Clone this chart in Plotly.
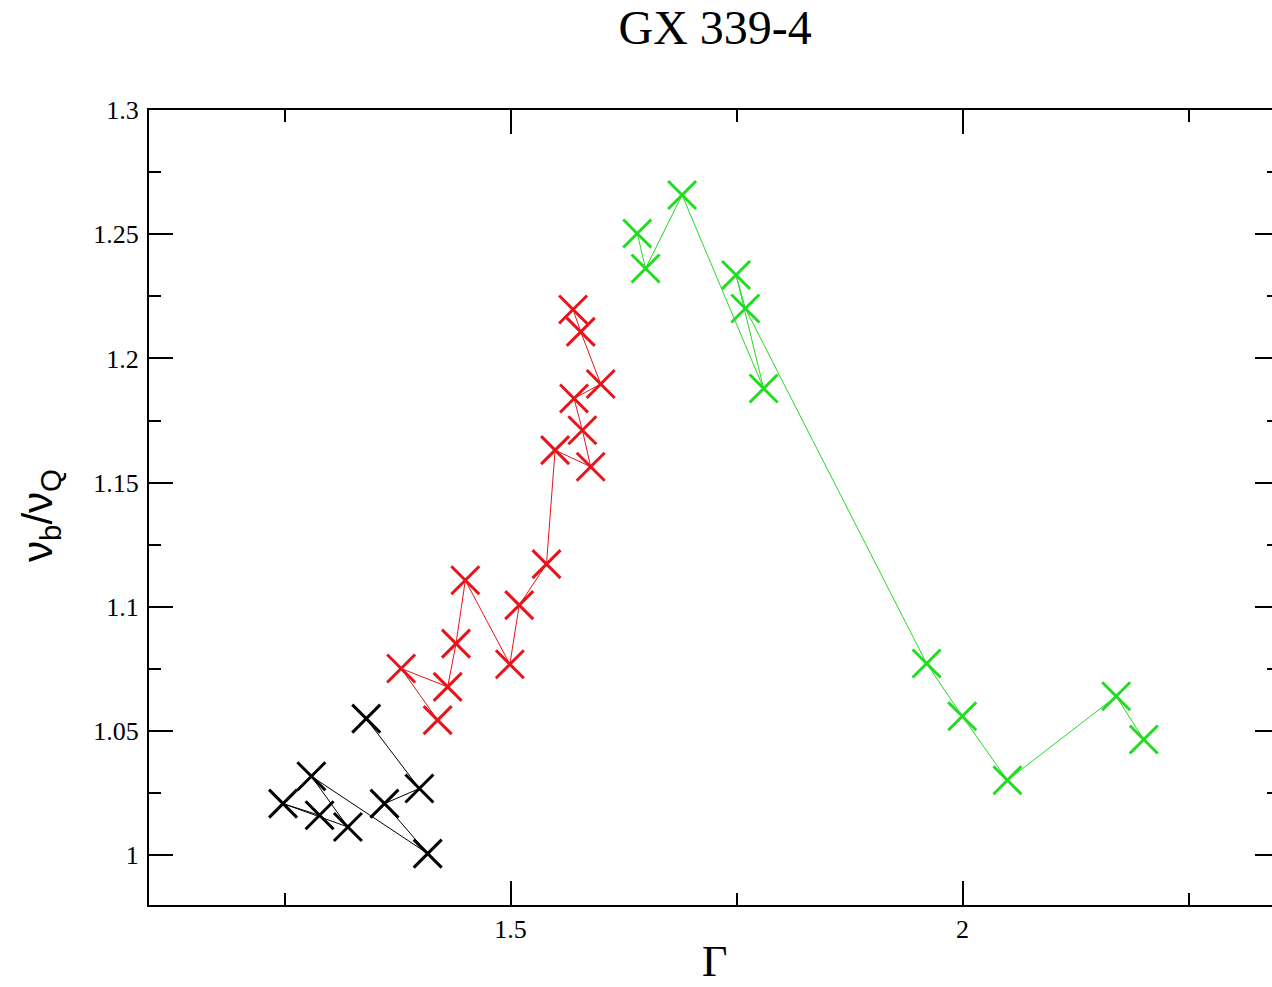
import plotly.graph_objects as go

# Photon index (Gamma) and break / QPO frequency ratio for GX 339-4
black_gamma = [1.3403, 1.3991, 1.3605, 1.4083, 1.2796, 1.3200, 1.2483, 1.2887]
black_ratio = [1.0550, 1.0269, 1.0208, 1.0007, 1.0318, 1.0114, 1.0208, 1.0161]

red_gamma = [1.4193, 1.3789, 1.4304, 1.4396, 1.4499, 1.4992, 1.5095, 1.5397,
             1.5492, 1.5886, 1.5794, 1.5702, 1.5997, 1.5776, 1.5691]
red_ratio = [1.0544, 1.0752, 1.0678, 1.0852, 1.1107, 1.0769, 1.1007, 1.1172,
             1.1631, 1.1564, 1.1711, 1.1839, 1.1897, 1.2107, 1.2197]

green_gamma = [1.6401, 1.6493, 1.6897, 1.7799, 1.7494, 1.7597, 1.9602, 1.9996,
               2.0496, 2.1699, 2.2004]
green_ratio = [1.2503, 1.2362, 1.2658, 1.1879, 1.2336, 1.2201, 1.0772, 1.0560,
               1.0302, 1.0640, 1.0466]

x_tick_vals = [1.5, 2.0]
x_tick_text = ["1.5", "2"]
x_minor_vals = [1.25, 1.75, 2.25]
y_tick_vals = [1.0, 1.05, 1.1, 1.15, 1.2, 1.25, 1.3]
y_tick_text = ["1", "1.05", "1.1", "1.15", "1.2", "1.25", "1.3"]
y_minor_vals = [1.025, 1.075, 1.125, 1.175, 1.225, 1.275]

series = [
    (black_gamma, black_ratio, "#000000"),
    (red_gamma, red_ratio, "#e8141a"),
    (green_gamma, green_ratio, "#22dc22"),
]

fig = go.Figure()
for gx, ry, col in series:
    fig.add_trace(go.Scatter(
        x=gx, y=ry, mode="lines+markers",
        line=dict(color=col, width=1),
        marker=dict(symbol="x-thin-open", size=28, color=col,
                    line=dict(color=col, width=3)),
        showlegend=False,
    ))

serif = "Liberation Serif, Times New Roman, serif"
axis_common = dict(
    showgrid=False, zeroline=False, showline=True, linecolor="black",
    linewidth=2, mirror="ticks", ticks="inside", ticklen=24, tickwidth=2,
    tickcolor="black", tickfont=dict(family=serif, size=26, color="black"),
)

fig.update_xaxes(
    range=[1.1, 2.35], tickmode="array", tickvals=x_tick_vals,
    ticktext=x_tick_text, ticklabelstandoff=0,
    minor=dict(tickvals=x_minor_vals, ticks="inside", ticklen=12,
               tickwidth=2, tickcolor="black", showgrid=False),
    **axis_common,
)
fig.update_yaxes(
    range=[0.98, 1.3], tickmode="array", tickvals=y_tick_vals,
    ticktext=y_tick_text, ticklabelstandoff=3,
    minor=dict(tickvals=y_minor_vals, ticks="inside", ticklen=12,
               tickwidth=2, tickcolor="black", showgrid=False),
    **axis_common,
)

fig.add_annotation(
    text="ν<sub>b</sub>/ν<sub>Q</sub>", textangle=-90, showarrow=False,
    xref="paper", yref="paper", x=-0.096, y=0.49,
    xanchor="center", yanchor="middle",
    font=dict(family="Liberation Sans, Arial, sans-serif", size=42, color="black"),
)
fig.add_annotation(
    text="Γ", showarrow=False, xref="paper", yref="paper",
    x=0.5, y=-0.0709, xanchor="center", yanchor="middle",
    font=dict(family=serif, size=44, color="black"),
)

fig.update_layout(
    width=1290, height=987,
    margin=dict(l=149, r=9, t=110, b=82),
    paper_bgcolor="white", plot_bgcolor="white",
    title=dict(text="GX 339-4", x=0.5544, xanchor="center",
               y=0.972, yref="container", yanchor="middle",
               font=dict(family=serif, size=48, color="black")),
)

fig.write_html(
    "out.html",
    post_script="document.documentElement.style.overflow='hidden';"
                "document.body.style.overflow='hidden';",
)
